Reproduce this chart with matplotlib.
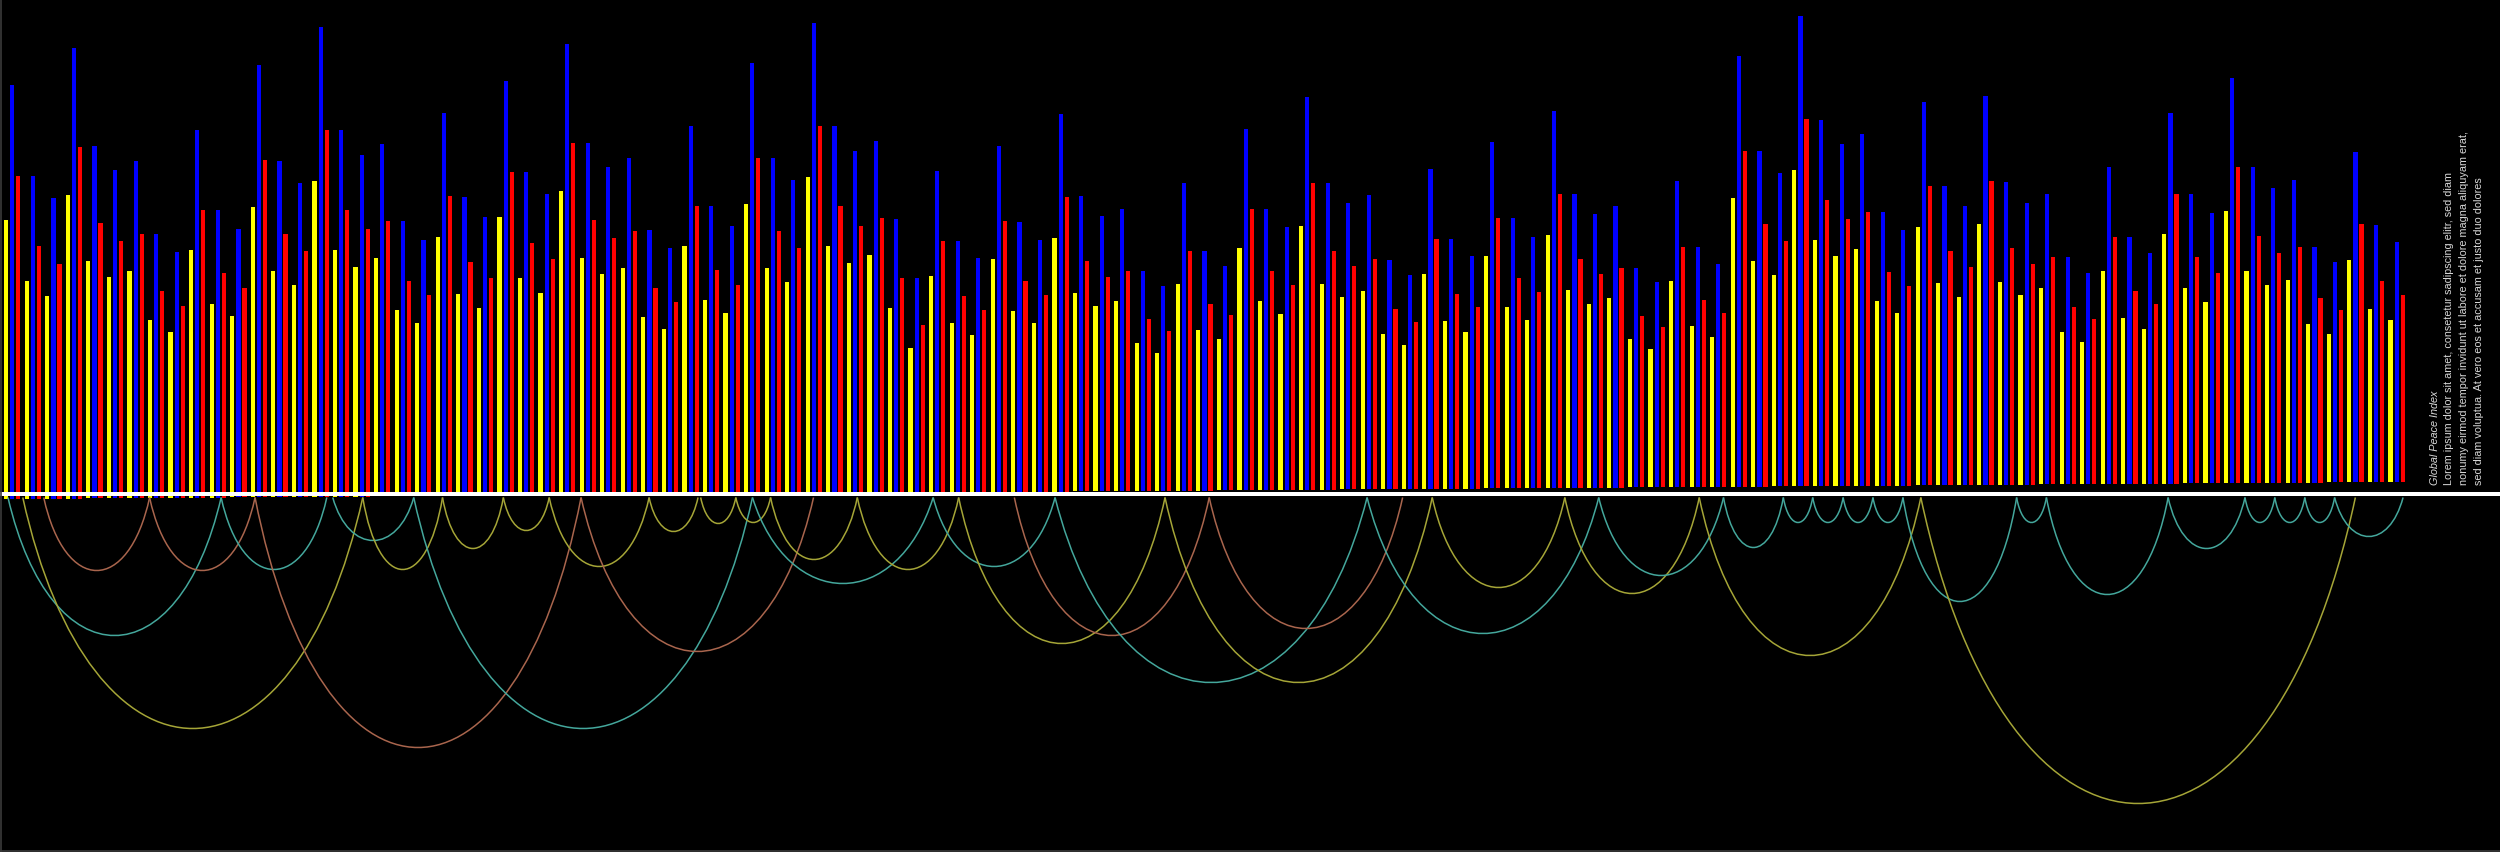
import numpy as np
import matplotlib
matplotlib.use("Agg")
import matplotlib.pyplot as plt
from matplotlib.path import Path
from matplotlib.patches import PathPatch
from matplotlib.lines import Line2D
from matplotlib import font_manager

# ---------------- data ----------------
countries = [f"Country {i + 1}" for i in range(117)]

blue = [4.14, 3.23, 3.01, 4.51, 3.52, 3.28, 3.37, 2.64, 2.46, 3.68, 2.88, 2.68,
        4.32, 3.36, 3.14, 4.70, 3.67, 3.42, 3.52, 2.75, 2.56, 3.83, 2.99, 2.79,
        4.14, 3.23, 3.01, 4.51, 3.52, 3.28, 3.37, 2.64, 2.46, 3.68, 2.88, 2.68,
        4.31, 3.36, 3.13, 4.70, 3.67, 3.42, 3.52, 2.74, 2.15, 3.21, 2.51, 2.34,
        3.46, 2.70, 2.52, 3.78, 2.95, 2.75, 2.82, 2.20, 2.05, 3.08, 2.40, 2.24,
        3.61, 2.81, 2.63, 3.93, 3.07, 2.86, 2.94, 2.29, 2.14, 3.20, 2.50, 2.33,
        3.46, 2.70, 2.51, 3.77, 2.94, 2.74, 2.82, 2.19, 2.05, 3.06, 2.40, 2.23,
        4.31, 3.36, 3.13, 4.70, 3.66, 3.42, 3.52, 2.74, 2.56, 3.83, 2.99, 2.79,
        3.89, 3.03, 2.82, 2.90, 2.27, 2.11, 3.17, 2.47, 2.31, 3.71, 2.89, 2.70,
        4.05, 3.16, 2.95, 3.03, 2.36, 2.20, 3.30, 2.57, 2.40]

red = [3.23, 2.53, 2.35, 3.52, 2.75, 2.57, 2.64, 2.07, 1.92, 2.88, 2.25, 2.09,
       3.37, 2.63, 2.46, 3.67, 2.87, 2.68, 2.75, 2.15, 2.01, 3.00, 2.34, 2.18,
       3.23, 2.52, 2.36, 3.52, 2.75, 2.57, 2.64, 2.06, 1.92, 2.88, 2.24, 2.09,
       3.36, 2.63, 2.45, 3.67, 2.87, 2.67, 2.75, 2.15, 1.68, 2.51, 1.96, 1.82,
       2.71, 2.11, 1.97, 2.95, 2.30, 2.14, 2.20, 1.72, 1.60, 2.40, 1.87, 1.75,
       2.81, 2.19, 2.05, 3.07, 2.39, 2.23, 2.30, 1.80, 1.67, 2.50, 1.95, 1.82,
       2.70, 2.10, 1.96, 2.94, 2.29, 2.14, 2.20, 1.71, 1.60, 2.40, 1.87, 1.74,
       3.36, 2.63, 2.45, 3.67, 2.86, 2.67, 2.74, 2.14, 2.00, 2.99, 2.34, 2.18,
       3.04, 2.37, 2.21, 2.27, 1.77, 1.65, 2.47, 1.93, 1.80, 2.90, 2.26, 2.10,
       3.16, 2.47, 2.30, 2.36, 1.85, 1.72, 2.58, 2.01, 1.87]

yellow = [2.79, 2.18, 2.03, 3.04, 2.37, 2.21, 2.27, 1.78, 1.66, 2.48, 1.94, 1.81,
          2.90, 2.26, 2.12, 3.16, 2.47, 2.30, 2.38, 1.86, 1.73, 2.59, 2.02, 1.88,
          2.78, 2.17, 2.02, 3.04, 2.37, 2.21, 2.27, 1.77, 1.65, 2.48, 1.94, 1.81,
          2.90, 2.26, 2.11, 3.16, 2.47, 2.30, 2.38, 1.85, 1.45, 2.16, 1.69, 1.57,
          2.33, 1.81, 1.69, 2.54, 1.98, 1.85, 1.90, 1.48, 1.38, 2.07, 1.61, 1.51,
          2.42, 1.89, 1.76, 2.64, 2.06, 1.92, 1.98, 1.55, 1.44, 2.15, 1.68, 1.57,
          2.32, 1.81, 1.68, 2.53, 1.98, 1.84, 1.90, 1.48, 1.38, 2.06, 1.61, 1.50,
          2.89, 2.26, 2.11, 3.16, 2.46, 2.30, 2.37, 1.85, 1.73, 2.58, 2.02, 1.88,
          2.61, 2.03, 1.90, 1.96, 1.52, 1.42, 2.13, 1.66, 1.55, 2.50, 1.95, 1.81,
          2.72, 2.12, 1.98, 2.03, 1.59, 1.48, 2.22, 1.73, 1.62]

# links between positions on the country axis (source, target, strength, group)
link_source = [-0.21, 0.51, 1.53, 6.68, 10.16, 11.81, 15.59, 17.05, 19.53, 20.93,
               23.89, 26.12, 27.67, 30.98, 33.49, 35.20, 36.01, 36.89, 41.11, 44.80,
               46.04, 48.75, 50.73, 56.08, 58.23, 65.91, 69.08, 75.53, 77.18, 82.07,
               83.25, 86.16, 87.59, 89.07, 90.52, 91.98, 92.85, 97.51, 98.96, 104.88,
               108.62, 110.07, 111.53, 112.98]
link_target = [10.16, 17.05, 6.68, 11.81, 15.30, 27.67, 19.53, 20.93, 36.01, 23.89,
               26.12, 30.98, 38.98, 33.36, 35.20, 36.89, 44.80, 41.11, 46.04, 50.73,
               56.08, 58.23, 65.91, 69.08, 67.64, 77.18, 75.53, 82.07, 83.25, 92.85,
               86.16, 87.59, 89.07, 90.52, 91.98, 97.51, 113.99, 98.96, 104.88, 108.62,
               110.07, 111.53, 112.98, 116.31]
link_depth = [1.38, 2.31, 0.73, 0.73, 0.72, 2.50, 0.43, 0.72, 2.31, 0.51,
              0.33, 0.69, 1.54, 0.34, 0.26, 0.25, 0.86, 0.62, 0.72, 0.69,
              1.46, 1.38, 1.85, 1.85, 1.31, 1.36, 0.90, 0.96, 0.78, 1.58,
              0.50, 0.25, 0.25, 0.25, 0.25, 1.04, 3.06, 0.25, 0.97, 0.51,
              0.25, 0.25, 0.25, 0.39]
link_group = ["t", "o", "b", "b", "t", "b", "t", "o", "t", "o",
              "o", "o", "b", "o", "o", "o", "t", "o", "o", "t",
              "o", "b", "t", "o", "b", "t", "o", "o", "t", "o",
              "t", "t", "t", "t", "t", "t", "o", "t", "t", "t",
              "t", "t", "t", "t"]

title = "Global Peace Index"
lorem = ["Lorem ipsum dolor sit amet, consetetur sadipscing elitr, sed diam",
         "nonumy eirmod tempor invidunt ut labore et dolore magna aliquyam erat,",
         "sed diam voluptua. At vero eos et accusam et justo duo dolores"]

# ---------------- layout / style ----------------
W, H, DPI = 2500, 853, 100
PX = 20.555            # pixels per country slot
BASE_PX = 500.0        # bar baseline (pixels from top)
YPX = 100.0            # pixels per value unit
link_colors = {"t": "#44a79c", "o": "#a5a537", "b": "#a9654d"}

fig = plt.figure(figsize=(W / DPI, H / DPI), dpi=DPI, facecolor="black")
ax = fig.add_axes([0, 0, 1, 1])
ax.set_facecolor("black")
ax.set_axis_off()

n = len(blue)
x = np.arange(n)
x0 = -12.3 / PX
ax.set_xlim(x0, x0 + W / PX)
ax.set_ylim(-(H - BASE_PX) / YPX, BASE_PX / YPX)

tilt = 17.0 / YPX
base = tilt * x / (n - 1)
bw = 4.2 / PX
ax.bar(x - 6.2 / PX, yellow, bw, bottom=base, color="#ffff00", lw=0, zorder=2)
ax.bar(x, blue, bw, bottom=base, color="#0000ff", lw=0, zorder=2)
ax.bar(x + 6.0 / PX, red, bw, bottom=base, color="#ff0000", lw=0, zorder=2)

ax.axhline((BASE_PX - 495.3) / YPX, color="white", lw=4.0 * 72 / DPI, zorder=5)

y0 = (BASE_PX - 498.5) / YPX
for s, t, d, g in zip(link_source, link_target, link_depth, link_group):
    w = t - s
    h = d / 0.75
    verts = [(s, y0), (s + 0.2 * w, y0 - h), (t - 0.2 * w, y0 - h), (t, y0)]
    p = Path(verts, [Path.MOVETO, Path.CURVE4, Path.CURVE4, Path.CURVE4])
    ax.add_patch(PathPatch(p, fc="none", ec=link_colors[g], lw=1.1, zorder=3))

# frame lines (left & bottom)
fig.add_artist(Line2D([0.6 / W, 0.6 / W], [0, 1], color="#3a3a3a", lw=1.2))
fig.add_artist(Line2D([0, 1], [0.6 / H, 0.6 / H], color="#3a3a3a", lw=1.2))

# text block
names = {f.name for f in font_manager.fontManager.ttflist}
fam = "Liberation Sans Narrow" if "Liberation Sans Narrow" in names else "Liberation Sans"
renderer = fig.canvas.get_renderer()
ystart = (H - 485.0) / H
lines = [(title, 2437.5, 95.0, "italic"),
         (lorem[0], 2452.3, 311.7, "normal"),
         (lorem[1], 2467.0, 350.0, "normal"),
         (lorem[2], 2481.7, 305.0, "normal")]
for s, bx, target, style in lines:
    t = fig.text(bx / W, ystart, s, rotation=90, rotation_mode="anchor",
                 ha="left", va="baseline", color="#d8d8d8", fontsize=9,
                 family=[fam, "DejaVu Sans"], style=style)
    ext = t.get_window_extent(renderer)
    t.set_fontsize(9 * target / ext.height)

fig.savefig("out.png", dpi=DPI, facecolor="black")
